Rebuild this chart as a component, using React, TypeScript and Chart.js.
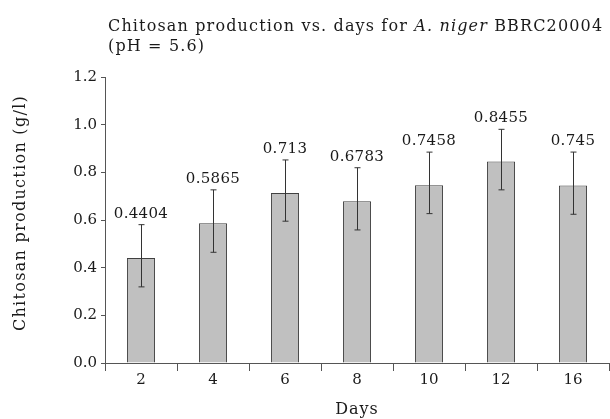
import React, { useEffect, useRef } from "react";
import { Chart, registerables } from "chart.js";

Chart.register(...registerables);

const days = ["2", "4", "6", "8", "10", "12", "16"];
const production = [0.4404, 0.5865, 0.713, 0.6783, 0.7458, 0.8455, 0.745];
const errorUp = [0.14, 0.14, 0.139, 0.141, 0.139, 0.135, 0.14];
const errorDown = [0.121, 0.122, 0.118, 0.12, 0.119, 0.119, 0.121];
const valueLabels = ["0.4404", "0.5865", "0.713", "0.6783", "0.7458", "0.8455", "0.745"];
const titleLine1 = [
  { text: "Chitosan production vs. days for ", italic: false },
  { text: "A. niger", italic: true },
  { text: " BBRC20004", italic: false },
];
const titleLine2 = "(pH = 5.6)";
const yTitle = "Chitosan production (g/l)";
const xTitle = "Days";

const FAMILY = "'DejaVu Serif', serif";
const FS = 15;
const FS_TITLE = 16;
const INK = "#1a1a1a";
const AXIS = "#555555";

export default function App() {
  const ref = useRef<HTMLCanvasElement>(null);

  useEffect(() => {
    document.body.style.margin = "0";
    const canvas = ref.current;
    if (!canvas) return;

    const errorPlugin = {
      id: "errorBars",
      afterDatasetsDraw(chart: any) {
        const { ctx, scales } = chart;
        const meta = chart.getDatasetMeta(0);
        ctx.save();
        ctx.strokeStyle = "#333333";
        ctx.lineWidth = 1;
        meta.data.forEach((bar: any, i: number) => {
          const x = Math.round(bar.x) + 0.5;
          const yTop = scales.y.getPixelForValue(production[i] + errorUp[i]);
          const yBot = scales.y.getPixelForValue(production[i] - errorDown[i]);
          ctx.beginPath();
          ctx.moveTo(x, yTop);
          ctx.lineTo(x, yBot);
          ctx.moveTo(x - 3, yTop);
          ctx.lineTo(x + 3, yTop);
          ctx.moveTo(x - 3, yBot);
          ctx.lineTo(x + 3, yBot);
          ctx.stroke();
          ctx.fillStyle = INK;
          ctx.font = `${FS}px ${FAMILY}`;
          (ctx as any).letterSpacing = "0.3px";
          ctx.textAlign = "center";
          ctx.textBaseline = "middle";
          ctx.fillText(valueLabels[i], bar.x, yTop - 11);
        });
        ctx.restore();
      },
    };

    const titlePlugin = {
      id: "richTitle",
      afterDraw(chart: any) {
        const { ctx, chartArea } = chart;
        ctx.save();
        ctx.fillStyle = INK;
        ctx.textBaseline = "alphabetic";
        ctx.textAlign = "left";
        (ctx as any).letterSpacing = "1.15px";
        let x = 108;
        titleLine1.forEach((seg) => {
          ctx.font = `${seg.italic ? "italic " : ""}${FS_TITLE}px ${FAMILY}`;
          ctx.fillText(seg.text, x, 31);
          x += ctx.measureText(seg.text).width;
        });
        ctx.font = `${FS_TITLE}px ${FAMILY}`;
        ctx.fillText(titleLine2, 108, 51);

        // axis titles
        ctx.textAlign = "center";
        ctx.textBaseline = "middle";
        (ctx as any).letterSpacing = "1.3px";
        ctx.save();
        ctx.translate(21, 213);
        ctx.rotate(-Math.PI / 2);
        ctx.fillText(yTitle, 0, 0);
        ctx.restore();
        (ctx as any).letterSpacing = "1px";
        ctx.fillText(xTitle, (chartArea.left + chartArea.right) / 2, 410);
        ctx.restore();
      },
    };

    const chart = new Chart(canvas, {
      type: "bar",
      data: {
        labels: days,
        datasets: [
          {
            data: production,
            backgroundColor: "#c0c0c0",
            borderColor: "#404040",
            borderWidth: 1,
            barPercentage: 0.39,
            categoryPercentage: 1,
          },
        ],
      },
      options: {
        animation: false,
        responsive: true,
        maintainAspectRatio: false,
        layout: { padding: { top: 77, right: 1, left: 0, bottom: 0 } },
        plugins: {
          legend: { display: false },
          tooltip: { enabled: false },
          title: { display: false },
        },
        scales: {
          x: {
            grid: {
              display: true,
              drawOnChartArea: false,
              drawTicks: true,
              tickLength: 8,
              color: AXIS,
              offset: true,
            },
            border: { display: true, color: AXIS, width: 1 },
            ticks: { color: INK, font: { family: FAMILY, size: FS }, padding: 0 },
            title: { display: false },
            afterFit: (s: any) => {
              s.height = 56;
            },
          },
          y: {
            min: 0,
            max: 1.2,
            ticks: {
              stepSize: 0.2,
              color: INK,
              font: { family: FAMILY, size: FS },
              padding: 4,
              callback: (v: any) => Number(v).toFixed(1),
            },
            grid: { drawOnChartArea: false, tickLength: 4, color: AXIS },
            border: { display: true, color: AXIS, width: 1 },
            title: { display: false },
            afterFit: (s: any) => {
              s.width = 105;
            },
          },
        },
      },
      plugins: [errorPlugin, titlePlugin],
    });

    return () => chart.destroy();
  }, []);

  return (
    <div style={{ width: 610, height: 419, position: "relative" }}>
      <canvas ref={ref} />
    </div>
  );
}
